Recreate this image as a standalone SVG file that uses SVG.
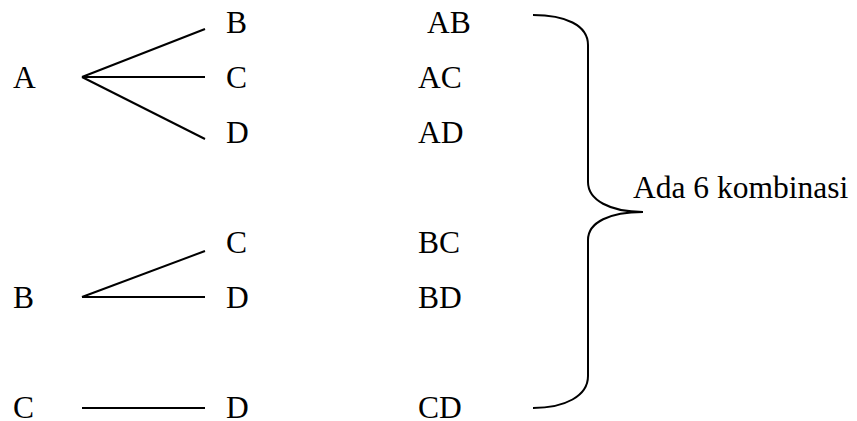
<svg xmlns="http://www.w3.org/2000/svg" width="857" height="421" viewBox="0 0 857 421">
<style>
text{font-family:"Liberation Serif","Times New Roman",serif;font-size:31.5px;fill:#000}
.c line,.c path{stroke:#000;stroke-width:2;fill:none}
</style>
<rect width="857" height="421" fill="#fff"/>
<g class="c" id="connectors">
<line x1="82" y1="77" x2="205" y2="29"/>
<line x1="82" y1="77" x2="205" y2="77"/>
<line x1="82" y1="77" x2="205" y2="139"/>
<line x1="82" y1="297" x2="205" y2="251"/>
<line x1="82" y1="297" x2="205" y2="297"/>
<line x1="82" y1="408" x2="205" y2="408"/>
<path d="M533,15 C565,15 588,25 588,45 L588,182 C588,200 610,212 643,212 C610,212 588,222 588,240 L588,376 C588,396 565,408 533,408"/>
</g>
<g id="nA"><text x="13" y="88">A</text></g>
<g id="nB1"><text x="226" y="33">B</text></g>
<g id="nC1"><text x="226" y="88">C</text></g>
<g id="nD1"><text x="226" y="143">D</text></g>
<g id="nB"><text x="13" y="308">B</text></g>
<g id="nC2"><text x="226" y="253">C</text></g>
<g id="nD2"><text x="226" y="308">D</text></g>
<g id="nC"><text x="13" y="418">C</text></g>
<g id="nD3"><text x="226" y="418">D</text></g>
<g id="rAB"><text x="427" y="33">AB</text></g>
<g id="rAC"><text x="418" y="88">AC</text></g>
<g id="rAD"><text x="418" y="143">AD</text></g>
<g id="rBC"><text x="418" y="253">BC</text></g>
<g id="rBD"><text x="418" y="308">BD</text></g>
<g id="rCD"><text x="418" y="418">CD</text></g>
<g id="label"><text x="633" y="198">Ada 6 kombinasi</text></g>
</svg>
